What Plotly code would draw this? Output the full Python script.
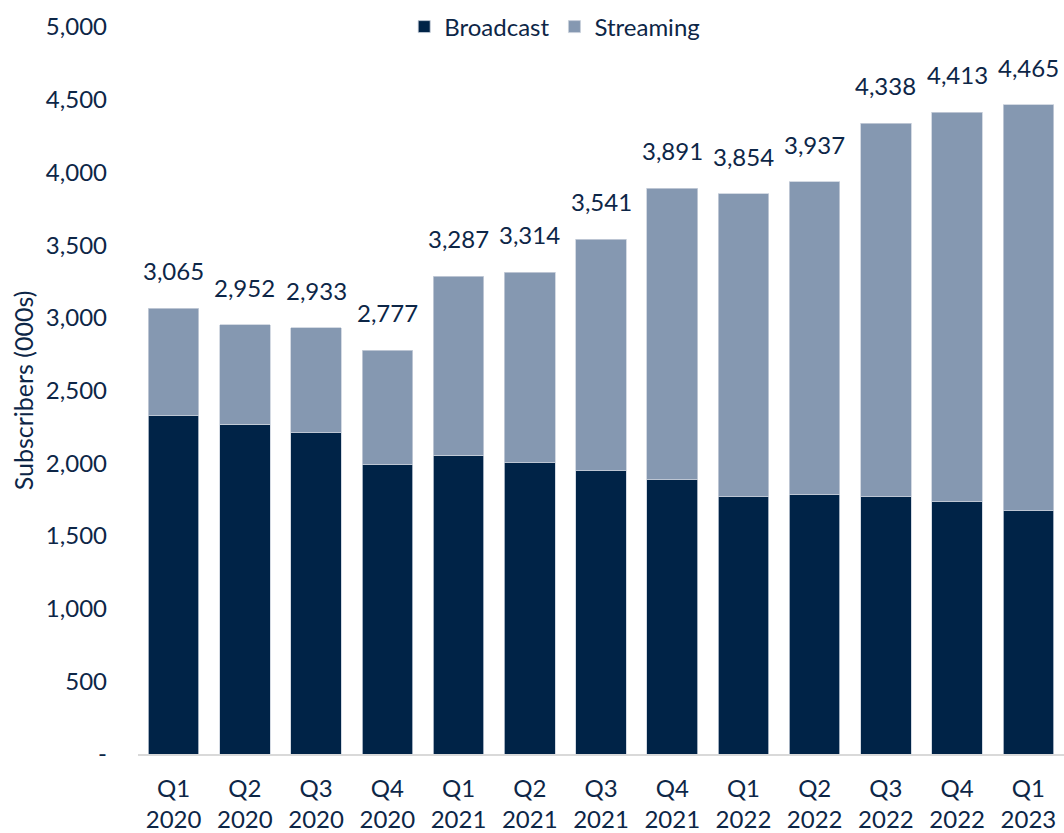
import plotly.graph_objects as go

quarters = ["Q1<br>2020", "Q2<br>2020", "Q3<br>2020", "Q4<br>2020",
            "Q1<br>2021", "Q2<br>2021", "Q3<br>2021", "Q4<br>2021",
            "Q1<br>2022", "Q2<br>2022", "Q3<br>2022", "Q4<br>2022",
            "Q1<br>2023"]
totals = [3065, 2952, 2933, 2777, 3287, 3314, 3541, 3891, 3854, 3937, 4338, 4413, 4465]
broadcast = [2327, 2267, 2208, 1989, 2055, 2003, 1948, 1886, 1768, 1784, 1768, 1736, 1674]
streaming = [t - b for t, b in zip(totals, broadcast)]

y_ticks = [0, 500, 1000, 1500, 2000, 2500, 3000, 3500, 4000, 4500, 5000]
y_tick_text = ["-"] + [f"{v:,}" for v in y_ticks[1:]]

navy = "#002347"
steel = "#8598b1"
txt = "#0d2647"
fnt = "Lato"

fig = go.Figure()
fig.add_trace(go.Bar(x=quarters, y=broadcast, name="Broadcast",
                     marker=dict(color=navy, line=dict(color="#c9d1dc", width=0.8))))
fig.add_trace(go.Bar(x=quarters, y=streaming, name="Streaming",
                     marker=dict(color=steel, line=dict(color="#c9d1dc", width=0.8))))

# totals on top of each bar
for q, t in zip(quarters, totals):
    fig.add_annotation(x=q, y=t, text=f"{t:,}", showarrow=False,
                       yanchor="bottom", yshift=21,
                       font=dict(size=24, color=txt, family=fnt))

fig.update_layout(
    barmode="stack",
    bargap=0.29,
    width=1064, height=833,
    margin=dict(l=138, r=0, t=27, b=76),
    plot_bgcolor="white", paper_bgcolor="white",
    font=dict(family=fnt, color=txt, size=24),
    legend=dict(orientation="h", x=0.45, xanchor="center", y=1.0, yanchor="middle",
                font=dict(size=24, color=txt, family=fnt), traceorder="normal",
                bgcolor="rgba(0,0,0,0)"),
    showlegend=True,
)
fig.update_xaxes(showline=True, linecolor="#d9d9d9", linewidth=1.5,
                 tickfont=dict(size=24, color=txt, family=fnt), ticks="",
                 ticklabelstandoff=12)
fig.update_yaxes(range=[0, 5000], tickvals=y_ticks, ticktext=y_tick_text,
                 showgrid=False, zeroline=False,
                 tickfont=dict(size=24, color=txt, family=fnt),
                 ticklabelstandoff=30,
                 title=dict(text="Subscribers (000s)", font=dict(size=25, color=txt, family=fnt), standoff=5))

# page body has a default 8px margin; drop it so the figure sits at the window edge
fig.write_html("out.html", config={"displayModeBar": False},
               post_script="document.body.style.margin='0';document.body.style.overflow='hidden';")
